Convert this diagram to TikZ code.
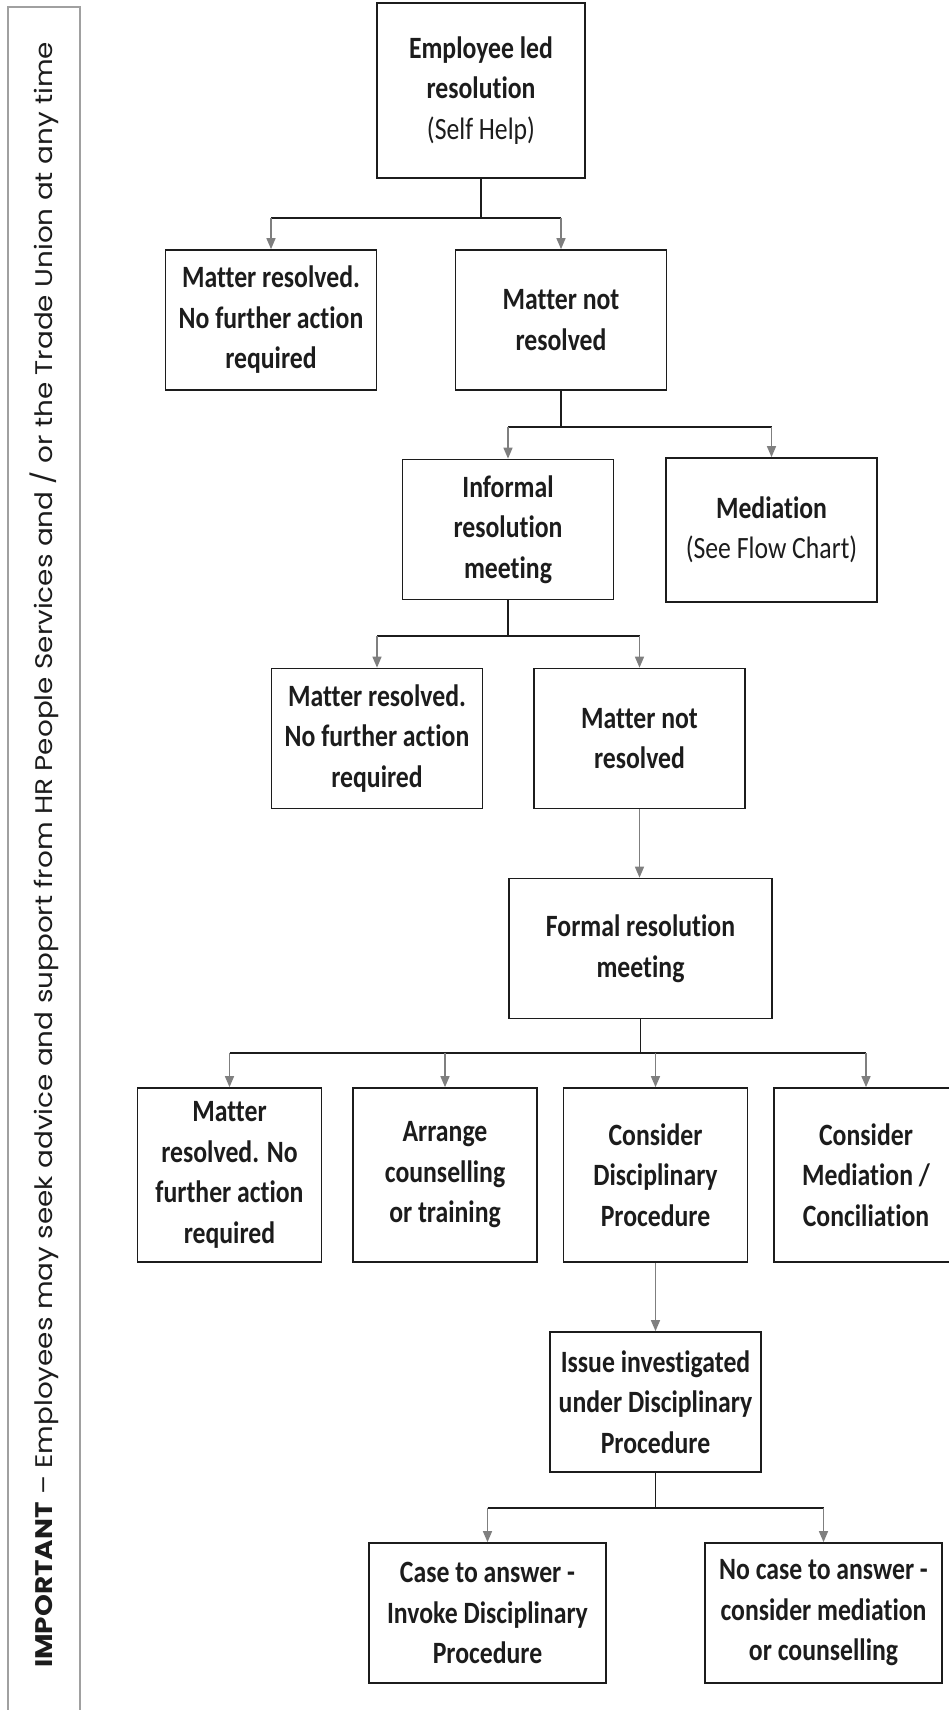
\documentclass[tikz,border=0pt]{standalone}
\usepackage{fontspec}
\usepackage{xcolor}
\usepackage{tikz}
\usetikzlibrary{arrows.meta,calc}
\newfontfamily\boxfont{Carlito}[FakeStretch=0.83, Ligatures={NoCommon}]
\newfontfamily\panelfont{Poppins}[FakeStretch=1.16]
\definecolor{flowgrey}{HTML}{7F7F7F}
\definecolor{panelgrey}{HTML}{A0A0A0}
\definecolor{inkblack}{HTML}{1C1C1C}

\begin{document}
\begin{tikzpicture}[
    x=1pt, y=-1pt,
    box/.style={draw=inkblack, line width=1.7pt, align=center, inner sep=0pt, text=inkblack,
        minimum width=211pt, minimum height=140pt, font=\boxfont\bfseries\fontsize{31}{40.5}\selectfont},
    tallbox/.style={box, minimum width=184pt, minimum height=174pt},
    widebox/.style={box, minimum width=237pt},
    stem/.style={draw=inkblack, line width=1.5pt},
    bar/.style={draw=inkblack, line width=2pt},
    arr/.style={draw=flowgrey, line width=1.4pt, -{Triangle[width=9pt,length=11pt]}}
]
\useasboundingbox (0,0) rectangle (948,1710);

% side note
\draw[panelgrey, line width=1.4pt] (8,1725) rectangle (80,7);
\node[rotate=90, anchor=west, inner sep=0pt, text=inkblack, font=\panelfont\fontsize{24}{28}\selectfont] (note) at (44.5,1668)
    {\textbf{IMPORTANT} – Employees may seek advice and support from HR People Services and / or the Trade Union at any time};

% boxes
\node[box, minimum width=208pt, minimum height=175pt] (emp) at (481,90.5) {Employee led\\resolution\\{\mdseries(Self Help)}};
\node[box] (res1) at (271,320) {Matter resolved.\\No further action\\required};
\node[box] (not1) at (561,320) {Matter not\\resolved};
\node[box] (inf) at (508,529.5) {Informal\\resolution\\meeting};
\node[box, minimum height=144pt] (med) at (771.5,530) {Mediation\\{\mdseries(See Flow Chart)}};
\node[box] (res2) at (377,738.5) {Matter resolved.\\No further action\\required};
\node[box] (not2) at (639.5,738.5) {Matter not\\resolved};
\node[box, minimum width=263pt] (formal) at (640.5,948.5) {Formal resolution\\meeting};
\node[tallbox] (opt1) at (229.5,1175) {Matter\\resolved. No\\further action\\required};
\node[tallbox] (opt2) at (445,1175) {Arrange\\counselling\\or training};
\node[tallbox] (opt3) at (655.5,1175) {Consider\\Disciplinary\\Procedure};
\node[tallbox] (opt4) at (866,1175) {Consider\\Mediation /\\Conciliation};
\node[box] (issue) at (655.5,1402) {Issue investigated\\under Disciplinary\\Procedure};
\node[widebox] (case) at (487.5,1613) {Case to answer -\\Invoke Disciplinary\\Procedure};
\node[widebox] (nocase) at (823.5,1613) {No case to answer -\\consider mediation\\or counselling};

% forks
\coordinate (j1) at ($(emp.south)+(0,39)$);
\coordinate (j2) at ($(not1.south)+(0,36)$);
\coordinate (j3) at ($(inf.south)+(0,36)$);
\coordinate (j4) at ($(formal.south)+(0,34)$);
\coordinate (j5) at ($(issue.south)+(0,35)$);

\draw[stem] (emp.south) -- (j1);
\draw[bar] (res1.north |- j1) -- (not1.north |- j1);
\foreach \b in {res1,not1} \draw[arr] (\b.north |- j1) -- (\b.north);

\draw[stem] (not1.south) -- (j2);
\draw[bar] (inf.north |- j2) -- (med.north |- j2);
\foreach \b in {inf,med} \draw[arr] (\b.north |- j2) -- (\b.north);

\draw[stem] (inf.south) -- (j3);
\draw[bar] (res2.north |- j3) -- (not2.north |- j3);
\foreach \b in {res2,not2} \draw[arr] (\b.north |- j3) -- (\b.north);

\draw[arr] (not2.south) -- (not2.south |- formal.north);

\draw[stem] (formal.south) -- (j4);
\draw[bar] (opt1.north |- j4) -- (opt4.north |- j4);
\foreach \b in {opt1,opt2,opt3,opt4} \draw[arr] (\b.north |- j4) -- (\b.north);

\draw[arr] (opt3.south) -- (issue.north);

\draw[stem] (issue.south) -- (j5);
\draw[bar] (case.north |- j5) -- (nocase.north |- j5);
\foreach \b in {case,nocase} \draw[arr] (\b.north |- j5) -- (\b.north);
\end{tikzpicture}
\end{document}
